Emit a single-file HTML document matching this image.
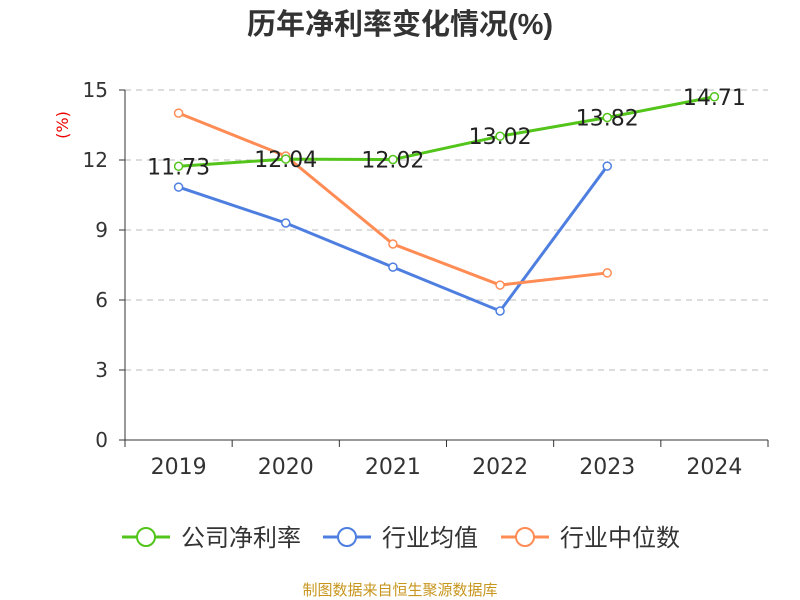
<!DOCTYPE html>
<html><head><meta charset="utf-8">
<style>
body{margin:0;background:#fff;}
svg{display:block;font-family:"DejaVu Sans","Noto Sans CJK SC",sans-serif;}
</style></head>
<body>
<svg id="chart" width="800" height="600" viewBox="0 0 800 600">
<text x="400" y="34" text-anchor="middle" font-size="29" font-weight="bold" fill="#333" font-family="Liberation Sans, Noto Sans CJK SC, sans-serif">历年净利率变化情况(%)</text>
<text x="68" y="125" font-size="16" fill="#e00" transform="rotate(-90 68 125)" text-anchor="middle">(%)</text>
<g id="grid"></g><g id="axes"></g><g id="series"></g>
<g>
 <g><line x1="122" y1="537" x2="170" y2="537" stroke="#52c41a" stroke-width="3"/><circle cx="146" cy="537" r="9" fill="#fff" stroke="#52c41a" stroke-width="2"/><text x="181" y="546" font-size="24" fill="#333">公司净利率</text></g>
 <g><line x1="323" y1="537" x2="371" y2="537" stroke="#4e7fe0" stroke-width="3"/><circle cx="347" cy="537" r="9" fill="#fff" stroke="#4e7fe0" stroke-width="2"/><text x="382" y="546" font-size="24" fill="#333">行业均值</text></g>
 <g><line x1="501" y1="537" x2="549" y2="537" stroke="#ff8c55" stroke-width="3"/><circle cx="525" cy="537" r="9" fill="#fff" stroke="#ff8c55" stroke-width="2"/><text x="560" y="546" font-size="24" fill="#333">行业中位数</text></g>
</g>
<text x="400" y="595" text-anchor="middle" font-size="15" fill="#c8961e">制图数据来自恒生聚源数据库</text>
</svg>
<script>
const categories=["2019","2020","2021","2022","2023","2024"];
const companyValues=[11.73,12.04,12.02,13.02,13.82,14.71];
const industryAvg=[10.84,9.3,7.41,5.53,11.74];
const industryMedian=[14.01,12.17,8.4,6.64,7.16];
const yTicks=[0,3,6,9,12,15];
const NS="http://www.w3.org/2000/svg";
const x0=125,x1=768,y0=440,y1=90,yMax=15;
const bw=(x1-x0)/categories.length;
const xS=i=>x0+bw*(i+0.5);
const yS=v=>y0-(v/yMax)*(y0-y1);
function mk(t,a,p){const e=document.createElementNS(NS,t);for(const k in a)e.setAttribute(k,a[k]);p.appendChild(e);return e;}
const grid=document.getElementById('grid'),axes=document.getElementById('axes'),ser=document.getElementById('series');
yTicks.forEach(v=>{
 if(v>0){const g=mk('line',{x1:x0,x2:x1,y1:yS(v),y2:yS(v),stroke:'#bbb','stroke-dasharray':'6,5'},grid);
 
 }
 const t=mk('text',{x:x0-17,y:yS(v)+7,'text-anchor':'end','font-size':20,fill:'#333'},axes);t.textContent=v;
 
 
 mk('line',{x1:x0-6,x2:x0,y1:yS(v),y2:yS(v),stroke:'#333'},axes);
});
const ya=mk('line',{x1:x0,x2:x0,y1:y1,y2:y0,stroke:'#333'},axes);


const xa=mk('line',{x1:x0,x2:x1,y1:y0,y2:y0,stroke:'#333'},axes);


for(let i=0;i<=categories.length;i++)mk('line',{x1:x0+bw*i,x2:x0+bw*i,y1:y0,y2:y0+7,stroke:'#333'},axes);
categories.forEach((c,i)=>{const t=mk('text',{x:xS(i),y:474,'text-anchor':'middle','font-size':22,fill:'#333'},axes);t.textContent=c;
 
 });
function line(vals,color,name,labels){
 const g=mk('g',{},ser);
 
 
 mk('polyline',{points:vals.map((v,i)=>xS(i)+','+yS(v)).join(' '),fill:'none',stroke:color,'stroke-width':3},g);
 vals.forEach((v,i)=>{const c=mk('circle',{cx:xS(i),cy:yS(v),r:4,fill:'#fff',stroke:color,'stroke-width':1.5},g);
  
  
  if(labels){const t=mk('text',{x:xS(i),y:yS(v)+8,'text-anchor':'middle','font-size':22,fill:'#222'},g);t.textContent=v.toFixed(2);
  
  }});
}
line(industryAvg,'#4e7fe0','industry-avg-line',false);
line(industryMedian,'#ff8c55','industry-median-line',false);
line(companyValues,'#52c41a','company-net-margin-line',true);
</script>
</body></html>
